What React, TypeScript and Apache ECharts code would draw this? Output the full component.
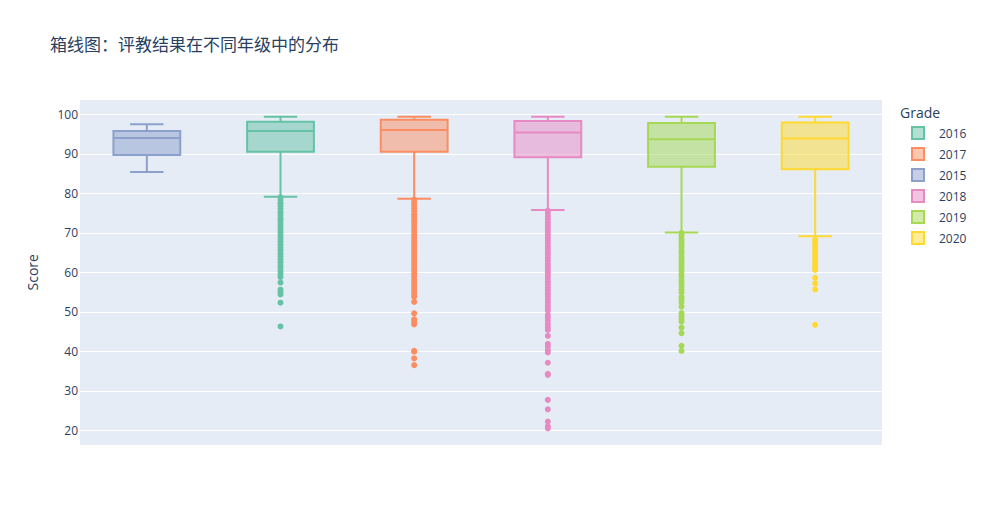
import React, { useEffect, useRef } from "react";
import * as echarts from "echarts";

const categories = ["2015", "2016", "2017", "2018", "2019", "2020"];
const legendOrder = ["2016", "2017", "2015", "2018", "2019", "2020"];
const yTicks = [20, 30, 40, 50, 60, 70, 80, 90, 100];

// [min(whisker), q1, median, q3, max(whisker)]
const box2015 = [85.4, 89.7, 94.0, 95.8, 97.5];
const box2016 = [79.1, 90.5, 95.8, 98.1, 99.4];
const box2017 = [78.6, 90.5, 96.0, 98.6, 99.4];
const box2018 = [75.8, 89.1, 95.4, 98.3, 99.4];
const box2019 = [70.1, 86.7, 93.7, 97.8, 99.4];
const box2020 = [69.1, 86.1, 93.9, 97.9, 99.4];

const out2015: number[] = [];
const out2016 = [
  79.0, 78.3, 77.5, 76.8, 76.0, 75.2, 74.5, 73.7, 73.0, 72.2, 71.5, 70.7, 70.0,
  69.2, 68.5, 67.7, 67.0, 66.2, 65.5, 64.7, 64.0, 63.2, 62.5, 61.7, 61.0, 60.2,
  59.5, 58.8, 57.4, 55.6, 55.0, 54.4, 52.3, 46.3,
];
const out2017 = [
  78.4, 77.7, 77.0, 76.2, 75.5, 74.7, 74.0, 73.2, 72.5, 71.7, 71.0, 70.2, 69.5,
  68.7, 68.0, 67.2, 66.5, 65.7, 65.0, 64.2, 63.5, 62.7, 62.0, 61.2, 60.5, 59.7,
  59.0, 58.2, 57.5, 56.7, 56.0, 55.2, 54.5, 53.8, 52.5, 49.6, 48.1, 47.5, 46.8,
  40.1, 39.9, 38.2, 36.5,
];
const out2018 = [
  75.6, 74.9, 74.1, 73.4, 72.6, 71.9, 71.1, 70.4, 69.6, 68.9, 68.1, 67.4, 66.6,
  65.9, 65.1, 64.4, 63.6, 62.9, 62.1, 61.4, 60.6, 59.9, 59.1, 58.4, 57.6, 56.9,
  56.1, 55.4, 54.6, 53.9, 53.1, 52.4, 51.6, 50.9, 50.3, 49.2, 48.5, 47.8, 46.9,
  46.1, 45.4, 43.9, 41.9, 41.2, 40.3, 39.7, 37.1, 34.3, 34.0, 27.7, 25.3, 22.2,
  21.0, 20.5,
];
const out2019 = [
  70.0, 69.3, 68.5, 67.8, 67.0, 66.3, 65.5, 64.8, 64.0, 63.3, 62.5, 61.8, 61.0,
  60.3, 59.5, 58.8, 58.0, 57.3, 56.5, 55.6, 54.9, 53.8, 53.2, 52.4, 51.3, 49.7,
  49.0, 48.2, 47.5, 46.0, 44.6, 41.4, 40.1,
];
const out2020 = [
  68.2, 67.6, 67.0, 66.2, 65.4, 64.7, 64.0, 63.3, 62.6, 61.8, 61.2, 60.6, 58.6,
  57.2, 55.7, 46.7,
];

const boxes = [box2015, box2016, box2017, box2018, box2019, box2020];
const outliers = [out2015, out2016, out2017, out2018, out2019, out2020];
const lineColors = ["#8da0cb", "#66c2a5", "#fc8d62", "#e78ac3", "#a6d854", "#ffd92f"];
const fillColors = [
  "rgba(141,160,203,0.5)",
  "rgba(102,194,165,0.5)",
  "rgba(252,141,98,0.5)",
  "rgba(231,138,195,0.5)",
  "rgba(166,216,84,0.5)",
  "rgba(255,217,47,0.5)",
];

const FONT = "'Open Sans', 'Noto Sans CJK SC', sans-serif";
const TEXT = "#2a3f5f";

export default function App() {
  const ref = useRef<HTMLDivElement>(null);
  useEffect(() => {
    if (!ref.current) return;
    const chart = echarts.init(ref.current, undefined, { renderer: "svg" });

    const series: any[] = [];
    categories.forEach((cat, i) => {
      const color = lineColors[i];
      const fill = fillColors[i];
      series.push({
        type: "custom",
        name: cat,
        z: 2,
        encode: { x: 0, y: [1, 2, 3, 4, 5] },
        data: [[i, ...boxes[i]]],
        renderItem: (params: any, api: any) => {
          const xi = api.value(0);
          const vMin = api.value(1);
          const q1 = api.value(2);
          const med = api.value(3);
          const q3 = api.value(4);
          const vMax = api.value(5);
          const band = api.size([1, 0])[0];
          const half = band * 0.25;
          const capHalf = band * 0.125;
          const cx = api.coord([xi, med])[0];
          const yMin = api.coord([xi, vMin])[1];
          const yQ1 = api.coord([xi, q1])[1];
          const yMed = api.coord([xi, med])[1];
          const yQ3 = api.coord([xi, q3])[1];
          const yMax = api.coord([xi, vMax])[1];
          const ls = { stroke: color, lineWidth: 2, fill: "none" };
          return {
            type: "group",
            children: [
              { type: "line", shape: { x1: cx, y1: yQ3, x2: cx, y2: yMax }, style: ls },
              { type: "line", shape: { x1: cx, y1: yQ1, x2: cx, y2: yMin }, style: ls },
              { type: "line", shape: { x1: cx - capHalf, y1: yMax, x2: cx + capHalf, y2: yMax }, style: ls },
              { type: "line", shape: { x1: cx - capHalf, y1: yMin, x2: cx + capHalf, y2: yMin }, style: ls },
              {
                type: "rect",
                shape: { x: cx - half, y: yQ3, width: half * 2, height: yQ1 - yQ3 },
                style: { fill, stroke: color, lineWidth: 2 },
              },
              { type: "line", shape: { x1: cx - half, y1: yMed, x2: cx + half, y2: yMed }, style: ls },
            ],
          };
        },
      });
      series.push({
        type: "scatter",
        name: cat,
        z: 3,
        symbol: "circle",
        symbolSize: 6,
        itemStyle: { color, opacity: 1 },
        data: outliers[i].map((v) => [i, v]),
      });
    });

    chart.setOption({
      animation: false,
      backgroundColor: "#ffffff",
      textStyle: { fontFamily: FONT },
      title: [
        {
          text: "箱线图：评教结果在不同年级中的分布",
          left: 50,
          top: 36,
          padding: 0,
          textStyle: { fontFamily: FONT, fontSize: 17, fontWeight: "normal", color: TEXT },
        },
        {
          text: "Grade",
          left: 900,
          top: 105,
          padding: 0,
          textStyle: { fontFamily: FONT, fontSize: 14, fontWeight: "normal", color: TEXT },
        },
      ],
      graphic: [
        {
          type: "rect",
          z: -100,
          silent: true,
          shape: { x: 80, y: 100, width: 802, height: 345 },
          style: { fill: "#E5ECF6" },
        },
      ],
      legend: {
        orient: "vertical",
        left: 911,
        top: 126,
        padding: 0,
        itemWidth: 12,
        itemHeight: 12,
        itemGap: 7,
        icon: "rect",
        textStyle: { fontFamily: FONT, fontSize: 12, color: TEXT, padding: [0, 0, 0, 10] },
        data: legendOrder.map((name) => {
          const i = categories.indexOf(name);
          return {
            name,
            icon: "rect",
            itemStyle: { color: fillColors[i], borderColor: lineColors[i], borderWidth: 2 },
          };
        }),
      },
      grid: { left: 80, right: 103, top: 114.3, bottom: 94.7, containLabel: false },
      xAxis: {
        type: "category",
        data: categories,
        boundaryGap: true,
        axisLine: { show: false },
        axisTick: { show: false },
        axisLabel: { show: false },
        splitLine: { show: false },
      },
      yAxis: {
        type: "value",
        min: yTicks[0],
        max: yTicks[yTicks.length - 1],
        interval: 10,
        name: "Score",
        nameLocation: "middle",
        nameRotate: 90,
        nameGap: 41,
        nameTextStyle: { fontFamily: FONT, fontSize: 14, color: TEXT },
        axisLine: { show: false },
        axisTick: { show: false },
        axisLabel: { fontFamily: FONT, fontSize: 12, color: TEXT, margin: 2 },
        splitLine: { show: true, lineStyle: { color: "#ffffff", width: 1 } },
      },
      series,
    });
    return () => chart.dispose();
  }, []);
  return <div ref={ref} style={{ width: 985, height: 525, margin: -8 }} />;
}
